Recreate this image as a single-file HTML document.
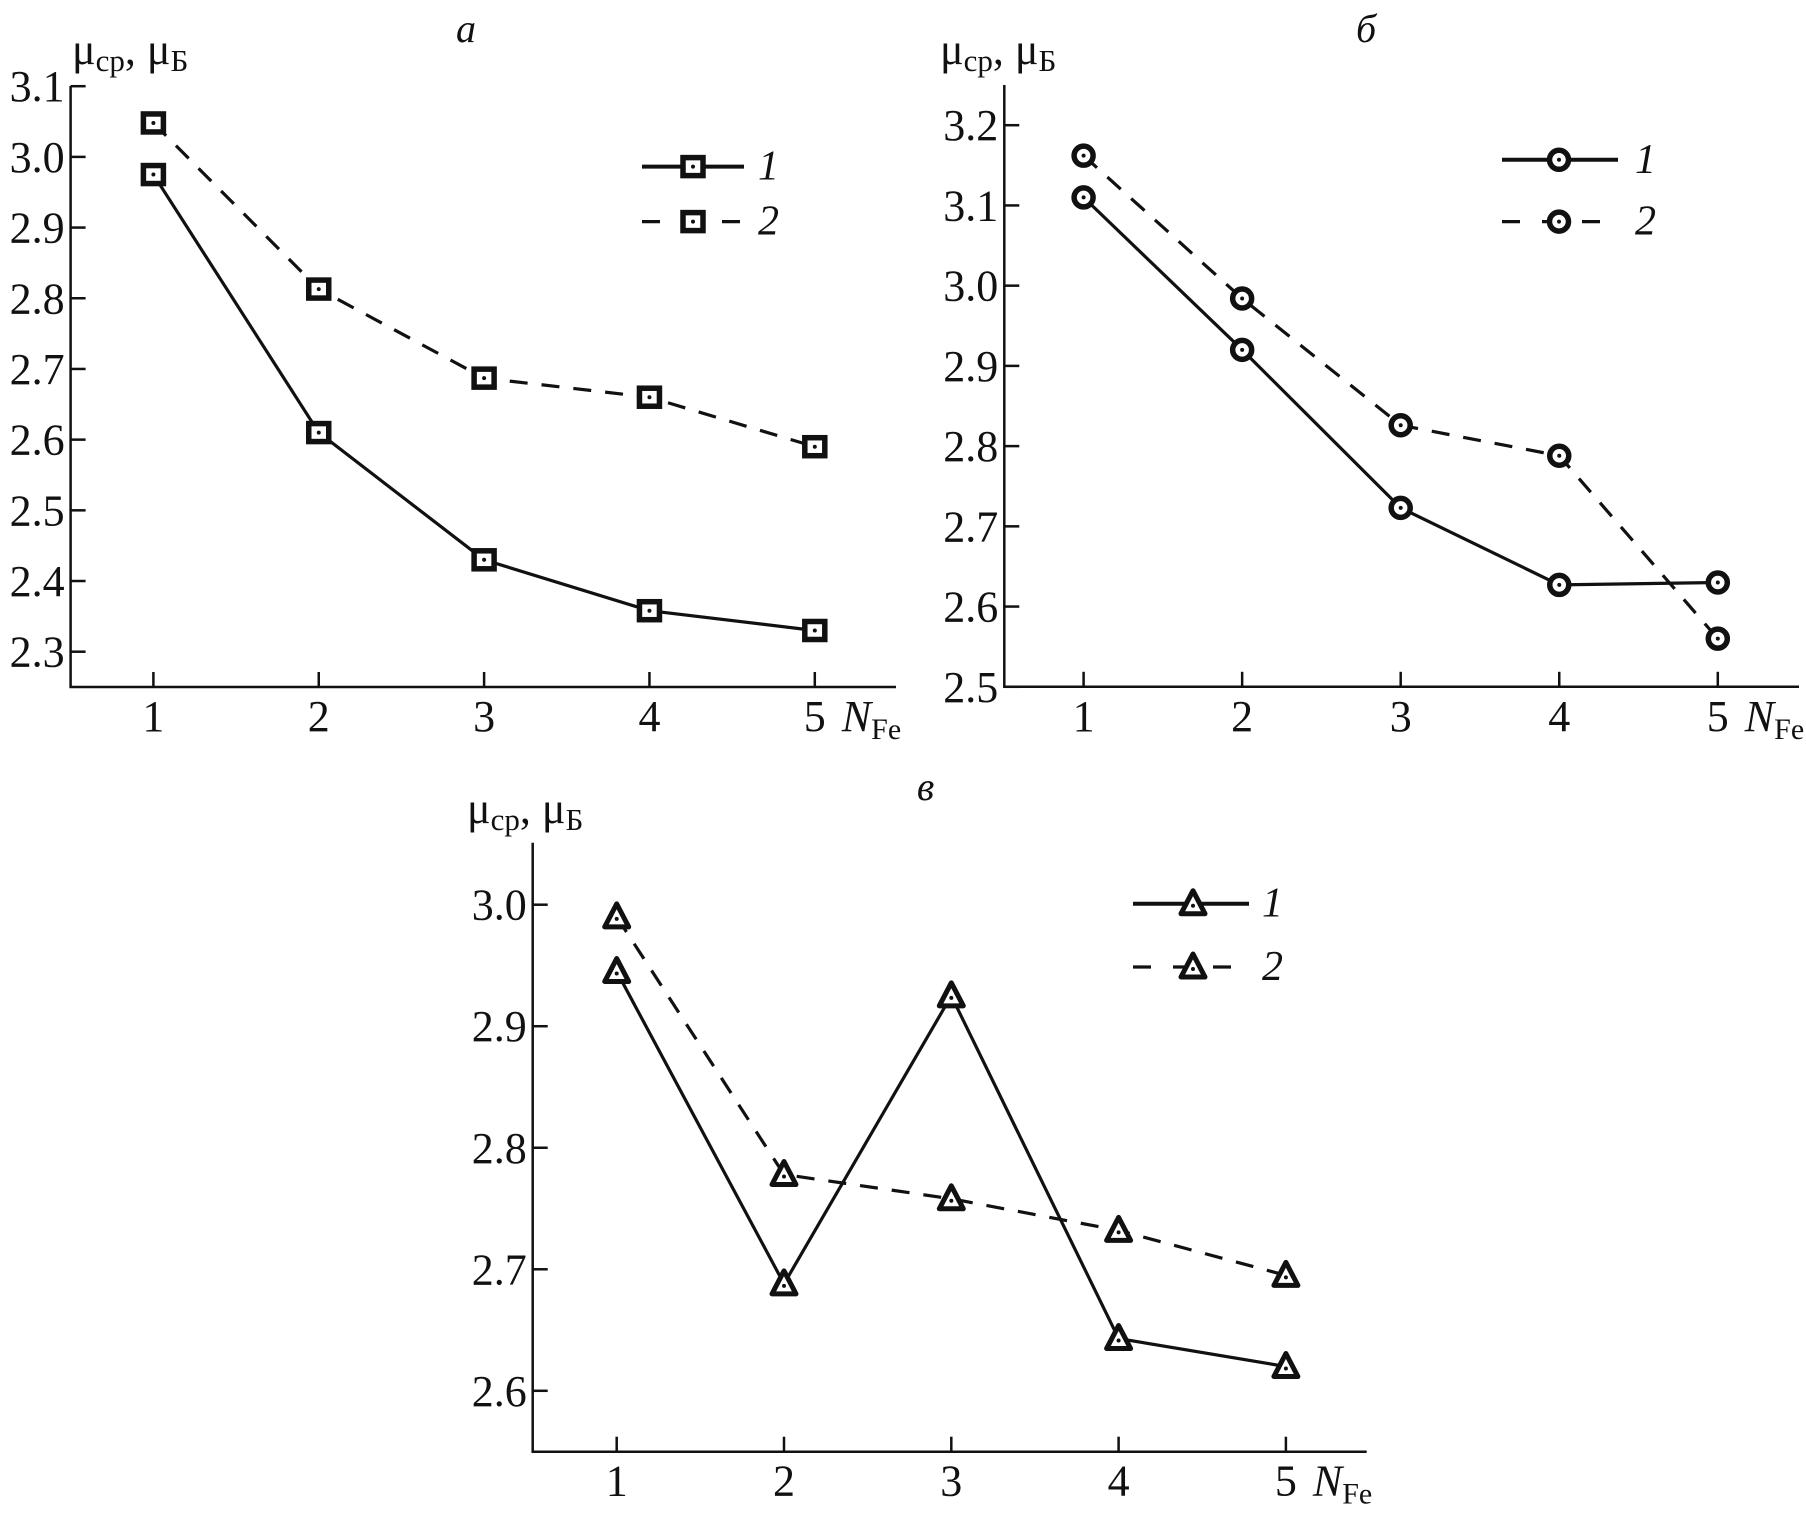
<!DOCTYPE html>
<html><head><meta charset="utf-8"><style>
html,body{margin:0;padding:0;background:#fff;}
svg{display:block;}
text{font-family:"Liberation Serif","DejaVu Serif",serif;fill:#111;}
</style></head><body>
<svg id="chart" width="1806" height="1520" viewBox="0 0 1806 1520" xmlns="http://www.w3.org/2000/svg"></svg>
<script>
const categories = [1, 2, 3, 4, 5];
const aSeries1 = [2.975, 2.61, 2.43, 2.358, 2.33];
const aSeries2 = [3.048, 2.813, 2.687, 2.66, 2.59];
const aTicks = ["3.1","3.0","2.9","2.8","2.7","2.6","2.5","2.4","2.3"];
const bSeries1 = [3.11, 2.92, 2.723, 2.627, 2.63];
const bSeries2 = [3.162, 2.984, 2.826, 2.788, 2.56];
const bTicks = ["3.2","3.1","3.0","2.9","2.8","2.7","2.6","2.5"];
const cSeries1 = [2.945, 2.688, 2.925, 2.643, 2.62];
const cSeries2 = [2.99, 2.778, 2.758, 2.732, 2.695];
const cTicks = ["3.0","2.9","2.8","2.7","2.6"];
const legendLabels = ["1","2"];

const NS = "http://www.w3.org/2000/svg";
const svg = document.getElementById("chart");
function mk(tag, attrs, parent){
  const e = document.createElementNS(NS, tag);
  for (const k in attrs) e.setAttribute(k, attrs[k]);
  (parent||svg).appendChild(e);
  return e;
}
function marker(g, kind, x, y){
  const m = mk("g", {}, g);
  
  
  if (kind === "square"){
    mk("rect", {x:x-10, y:y-9, width:20, height:18, fill:"#fff", stroke:"#111", "stroke-width":5.5}, m);
  } else if (kind === "circle"){
    mk("circle", {cx:x, cy:y, r:9.5, fill:"#fff", stroke:"#111", "stroke-width":5.5}, m);
  } else {
    mk("polygon", {points:`${x},${y-13} ${x+12},${y+10} ${x-12},${y+10}`, fill:"#fff", stroke:"#111", "stroke-width":5, "stroke-linejoin":"round"}, m);
  }
  mk("circle", {cx:x, cy:y+(kind==="triangle"?2:0), r:2, fill:"#111"}, m);
}
function panel(p){
  const g = mk("g", {});
  
  
  const xS = c => p.x1 + (c - categories[0]) * (p.x5 - p.x1) / (categories[categories.length-1] - categories[0]);
  const tv = p.ticks.map(Number);
  const vTop = tv[0], vBot = tv[tv.length-1];
  const yS = v => p.yTop + (vTop - v) * (p.yBot - p.yTop) / (vTop - vBot);
  const ax = mk("path", {d:`M${p.ax},${p.axTop} V${p.axY} H${p.axRight}`, fill:"none", stroke:"#111", "stroke-width":2.5}, g);
  
  
  p.ticks.forEach((t) => {
    const y = yS(Number(t));
    mk("line", {x1:p.ax, x2:p.ax+15, y1:y, y2:y, stroke:"#111", "stroke-width":2.5}, g);
    const tx = mk("text", {x:p.ax-6, y:y+15, "text-anchor":"end", "font-size":44}, g);
    
    
    tx.textContent = t;
  });
  categories.forEach(c => {
    const x = xS(c);
    mk("line", {x1:x, x2:x, y1:p.axY, y2:p.axY-15, stroke:"#111", "stroke-width":2.5}, g);
    const tx = mk("text", {x:x, y:p.axY+44, "text-anchor":"middle", "font-size":44}, g);
    
    
    tx.textContent = c;
  });
  const xl = mk("text", {x:xS(5)+27, y:p.axY+44, "font-size":44, "font-style":"italic"}, g);
  
  
  xl.innerHTML = 'N<tspan font-style="normal" font-size="30" dy="8">Fe</tspan>';
  const yl = mk("text", {x:p.ylx, y:p.yly, "font-size":44}, g);
  
  
  yl.innerHTML = 'μ<tspan font-size="31" dy="7">ср</tspan><tspan dy="-7">, μ</tspan><tspan font-size="31" dy="7">Б</tspan>';
  const tt = mk("text", {x:p.tx, y:p.ty+13, "font-size":40, "font-style":"italic", "text-anchor":"middle"}, g);
  
  
  tt.textContent = p.title;
  [p.s1, p.s2].forEach((s, i) => {
    const d = s.map((v, k) => (k ? "L" : "M") + xS(categories[k]) + "," + yS(v)).join(" ");
    const ln = mk("path", {d:d, fill:"none", stroke:"#111", "stroke-width":3.2, "stroke-dasharray": i ? "18,14" : "none"}, g);
    
    
    s.forEach((v, k) => marker(g, p.kind, xS(categories[k]), yS(v)));
  });
  [p.lgY1, p.lgY2].forEach((y, i) => {
    const lg = mk("g", {}, g);
    
    
    mk("line", {x1:p.lgX1, x2:p.lgX2, y1:y, y2:y, stroke:"#111", "stroke-width":i?3.2:4, "stroke-dasharray": i ? "18,22" : "none"}, lg);
    marker(lg, p.kind, p.lgM, y);
    const t = mk("text", {x:p.lgT, y:y+13, "font-size":42, "font-style":"italic"}, lg);
    t.textContent = legendLabels[i];
  });
}
panel({name:"panel-a", title:"a", kind:"square", s1:aSeries1, s2:aSeries2, ticks:aTicks,
  ax:70.6, axTop:86, axY:687, axRight:896, x1:153.4, x5:814.8, yTop:86.2, yBot:651.7,
  ylx:72, yly:64, tx:466, ty:29, lgX1:642, lgX2:744, lgM:693, lgT:758, lgY1:166.6, lgY2:221.6});
panel({name:"panel-b", title:"б", kind:"circle", s1:bSeries1, s2:bSeries2, ticks:bTicks,
  ax:1004.3, axTop:85, axY:686.8, axRight:1799, x1:1083.6, x5:1717.8, yTop:125.2, yBot:686.8,
  ylx:940, yly:64, tx:1366, ty:29, lgX1:1502, lgX2:1618, lgM:1559, lgT:1635, lgY1:159.8, lgY2:221.6});
panel({name:"panel-c", title:"в", kind:"triangle", s1:cSeries1, s2:cSeries2, ticks:cTicks,
  ax:532.7, axTop:842.8, axY:1451.7, axRight:1366.7, x1:616.7, x5:1285.9, yTop:904.7, yBot:1390.8,
  ylx:467, yly:823, tx:925.6, ty:786.8, lgX1:1133, lgX2:1249, lgM:1193, lgT:1262, lgY1:903.7, lgY2:967});
</script>
</body></html>
